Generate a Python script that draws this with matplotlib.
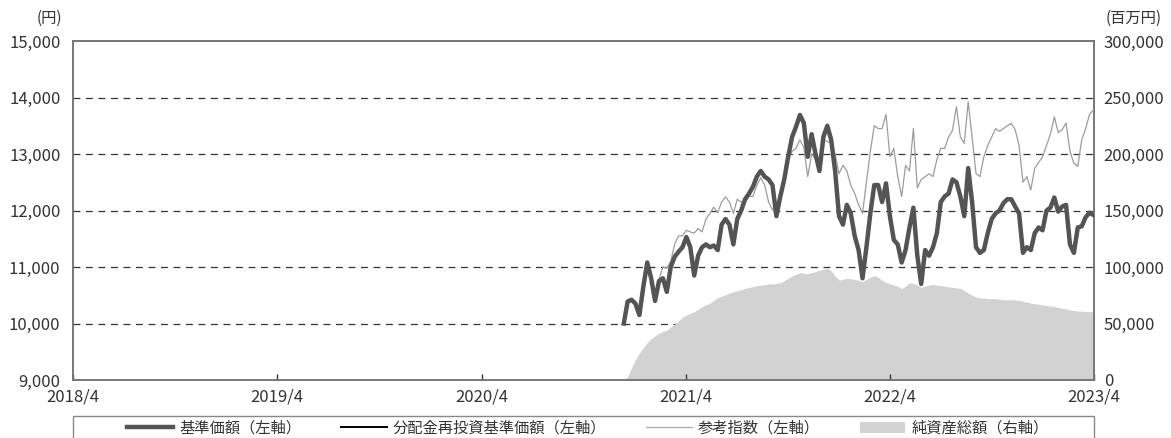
import matplotlib
matplotlib.use("Agg")
import matplotlib.pyplot as plt
import matplotlib.ticker as mticker
from matplotlib.lines import Line2D
from matplotlib.patches import Patch, Rectangle
import pandas as pd

plt.rcParams['font.family'] = ['Noto Sans CJK JP', 'DejaVu Sans']

# weekly data, 2020/12/11 - 2023/3/31
start = '2020-12-11'
nav = [10000, 10390, 10420, 10350, 10150, 10650, 11080, 10800, 10400, 10750,
       10800, 10560, 11000, 11180, 11270, 11350, 11530, 11350, 10850, 11200,
       11350, 11400, 11350, 11380, 11300, 11750, 11850, 11750, 11400, 11850,
       12000, 12200, 12300, 12420, 12600, 12700, 12600, 12550, 12450, 11900,
       12250, 12550, 12950, 13300, 13480, 13690, 13550, 12950, 13350, 13000,
       12700, 13300, 13500, 13250, 12700, 11900, 11750, 12100, 11950, 11550,
       11300, 10800, 11350, 11950, 12450, 12450, 12150, 12480, 11900, 11480,
       11400, 11080, 11300, 11700, 12050, 11200, 10700, 11300, 11200, 11350,
       11600, 12150, 12250, 12300, 12550, 12500, 12250, 11900, 12750, 12150,
       11350, 11250, 11300, 11600, 11850, 11950, 12000, 12130, 12200, 12200,
       12070, 11950, 11250, 11350, 11300, 11600, 11700, 11650, 12000, 12050,
       12230, 11980, 12070, 12100, 11400, 11250, 11700, 11720, 11880, 11960,
       11920]
nav_reinvest = list(nav)  # no distributions paid
ref_index = [10000, 10390, 10420, 10350, 10150, 10650, 11080, 10800, 10400, 10780,
             11000, 10980, 11100, 11400, 11550, 11550, 11650, 11620, 11600, 11680,
             11620, 11850, 11950, 12060, 11960, 12150, 12240, 12150, 11950, 12200,
             12150, 12150, 12250, 12250, 12450, 12580, 12450, 12150, 12010, 12100,
             12300, 12550, 12900, 13050, 13100, 13250, 13120, 12600, 13000, 12900,
             12850, 13250, 13220, 13200, 13000, 12650, 12800, 12700, 12450, 12300,
             12100, 11950, 12500, 13050, 13500, 13450, 13450, 13700, 12950, 13100,
             12600, 12250, 12800, 12700, 13450, 12400, 12550, 12600, 12650, 12600,
             12900, 13100, 13100, 13300, 13420, 13838, 13300, 13190, 13926, 13300,
             12658, 12600, 12950, 13150, 13300, 13450, 13400, 13450, 13500, 13540,
             13430, 13150, 12500, 12600, 12363, 12750, 12850, 12950, 13150, 13350,
             13660, 13380, 13430, 13550, 13050, 12835, 12780, 13250, 13450, 13700,
             13780]
net_assets = [0, 3000, 11000, 18000, 24000, 28500, 33000, 36500, 39000, 41500,
              43000, 44000, 47000, 49500, 52500, 55500, 57500, 59000, 60500, 62500,
              65000, 66500, 68000, 70500, 73000, 74000, 75500, 77000, 78000, 79000,
              80000, 81000, 82000, 82500, 83500, 84000, 84500, 85000, 85000, 85500,
              86000, 88000, 90000, 92000, 93500, 95000, 94500, 94000, 95000, 96000,
              97000, 98000, 98800, 96500, 92000, 88500, 89000, 90000, 89500, 89000,
              88000, 87000, 89000, 91000, 92500, 91000, 88000, 86500, 85000, 84000,
              83000, 81000, 83000, 86000, 85500, 84000, 82000, 83000, 84000, 84500,
              84000, 83500, 83000, 82500, 82000, 81500, 81000, 79000, 77000, 75000,
              73500, 72500, 72500, 72000, 72000, 72000, 71500, 71000, 71000, 71000,
              70800, 70500, 69500, 69000, 68000, 67500, 67000, 66500, 66000, 65500,
              65000, 64000, 63500, 63000, 62000, 61500, 61000, 61000, 60500, 60500,
              60400]
dates = pd.date_range(start, periods=len(nav), freq='W-FRI')

year_ticks = pd.to_datetime(['2018-04-01', '2019-04-01', '2020-04-01',
                             '2021-04-01', '2022-04-01', '2023-04-01'])
year_labels = ['2018/4', '2019/4', '2020/4', '2021/4', '2022/4', '2023/4']
left_ticks = [9000, 10000, 11000, 12000, 13000, 14000, 15000]
right_ticks = [0, 50000, 100000, 150000, 200000, 250000, 300000]
labels = ['基準価額（左軸）', '分配金再投資基準価額（左軸）', '参考指数（左軸）', '純資産総額（右軸）']

text_c = '#333333'
spine_c = '#777777'

fig = plt.figure(figsize=(11.71, 4.38), dpi=100)
ax = fig.add_axes([73/1171, 1-380/438, 1021/1171, 339/438])
ax2 = ax.twinx()

# right axis: net assets fill + dashed grid (grid sits below the fill)
ax2.fill_between(dates, 0, net_assets, color='#d2d2d2', lw=0, zorder=2)
ax2.set_ylim(0, 300000)
ax2.set_yticks(right_ticks)
ax2.yaxis.set_major_formatter(mticker.StrMethodFormatter('{x:,.0f}'))
for v in right_ticks[1:-1]:
    ax2.axhline(v, color='#333333', lw=0.9, ls=(0, (5.5, 4.5)), zorder=1)

ax.set_zorder(ax2.get_zorder() + 1)
ax.patch.set_visible(False)
ax.plot(dates, nav_reinvest, color='black', lw=1.2, zorder=3)
ax.plot(dates, ref_index, color='#9c9c9c', lw=0.9, zorder=4)
ax.plot(dates, nav, color='#545454', lw=3.2, zorder=5, solid_joinstyle='round')
ax.set_ylim(9000, 15000)
ax.set_yticks(left_ticks)
ax.yaxis.set_major_formatter(mticker.StrMethodFormatter('{x:,.0f}'))
ax.set_xlim(year_ticks[0], year_ticks[-1])
ax.set_xticks(year_ticks)
ax.set_xticklabels(year_labels)

for a in (ax, ax2):
    for s in a.spines.values():
        s.set_color(spine_c)
        s.set_linewidth(1.2)
ax.tick_params(axis='x', direction='in', length=4, width=1, color='#333333',
               labelsize=12, labelcolor=text_c, pad=6)
ax.tick_params(axis='y', length=0, labelsize=12, labelcolor=text_c, pad=9)
ax2.tick_params(axis='y', length=0, labelsize=12, labelcolor=text_c, pad=7)

fig.text(49/1171, 1-18/438, '(円)', ha='center', va='center', fontsize=11, color=text_c)
fig.text(1134/1171, 1-18/438, '(百万円)', ha='center', va='center', fontsize=11, color=text_c)

# legend: full-width box, items centred inside
fig.patches.append(Rectangle((73/1171, -0.1), 1021/1171, (438-416)/438 + 0.1,
                             transform=fig.transFigure, fill=False,
                             edgecolor='#888888', lw=1))
handles = [Line2D([], [], color='#545454', lw=3.2),
           Line2D([], [], color='black', lw=1.4),
           Line2D([], [], color='#b0b0b0', lw=1),
           Patch(facecolor='#d2d2d2', edgecolor='none')]
fig.legend(handles, labels, loc='center', ncol=4, frameon=False,
           bbox_to_anchor=(588/1171, 1-428/438), borderaxespad=0, borderpad=0,
           fontsize=11, handlelength=3.0, handletextpad=0.4, columnspacing=2.6,
           labelcolor=text_c)

fig.savefig('out.png', dpi=100)
